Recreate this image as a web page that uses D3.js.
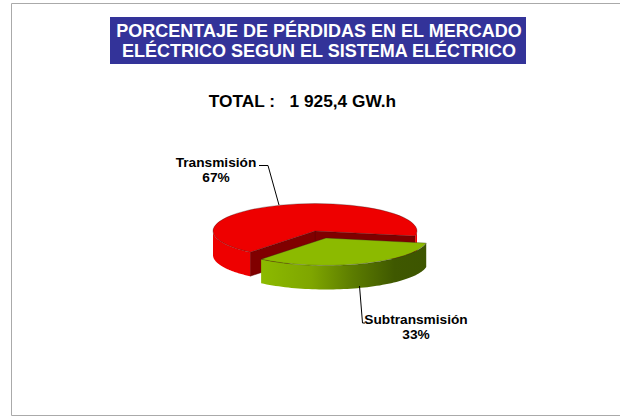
<!DOCTYPE html>
<html><head><meta charset="utf-8">
<script src="https://cdn.jsdelivr.net/npm/d3@7"></script>
<style>html,body{margin:0;padding:0;background:#fff}svg{display:block}text{font-family:"Liberation Sans",Arial,sans-serif;font-weight:bold}</style>
</head><body><script>
const categories = ["Transmisión", "Subtransmisión"];
const percentages = [67, 33];
const titleLines = ["PORCENTAJE DE PÉRDIDAS EN EL MERCADO", "ELÉCTRICO SEGUN EL SISTEMA ELÉCTRICO"];
const totalLabel = "TOTAL :   1 925,4 GW.h";

const W = 620, H = 417, rx = 102, ry = 27.5, depth = 24;
const centers = [{x:315,y:231},{x:326,y:238}];
const wallTop = ["#ee0000","#8cba00"];
const deg = Math.PI/180;
const svg = d3.select("body").append("svg").attr("width",W).attr("height",H);

const defs = svg.append("defs");
const gr = defs.append("linearGradient").attr("id","gw").attr("gradientUnits","userSpaceOnUse")
  .attr("x1",261).attr("x2",428).attr("y1",0).attr("y2",0);
[[0,"#8cba00"],[0.3,"#7fa600"],[0.55,"#5c7c00"],[0.8,"#3f5800"],[1,"#3d5500"]].forEach(d=>
  gr.append("stop").attr("offset",d[0]).attr("stop-color",d[1]));

// frame
svg.append("path").attr("d",`M${W},3.5H11.5V415.5H${W}`).attr("fill","none").attr("stroke","#aaaaaa").attr("stroke-width",1);

// title
svg.append("rect").attr("x",110).attr("y",17).attr("width",416).attr("height",47).attr("fill","#333399");
svg.append("g").selectAll("text").data(titleLines).join("text")
  .attr("x",319).attr("y",(d,i)=>37+i*20).attr("text-anchor","middle").attr("fill","#fff")
  .attr("font-size",18).text(d=>d);
svg.append("text").attr("x",302.5).attr("y",106.5).attr("text-anchor","middle").attr("xml:space","preserve")
  .attr("font-size",17.3).attr("fill","#000").style("white-space","pre").text(totalLabel);

// pie
const pie = d3.pie().sort(null).startAngle(219.5*deg).endAngle(219.5*deg+2*Math.PI);
const arcs = pie(percentages);
const arc = d3.arc().innerRadius(0).outerRadius(rx);
const pt = (c,a,dz=0)=>[c.x+rx*Math.sin(a), c.y-ry*Math.cos(a)+dz];
const line = d3.line();
function wall(c,a0,a1){
  const n = 60, top = d3.range(n+1).map(i=>pt(c,a0+(a1-a0)*i/n));
  return line(top.concat(top.slice().reverse().map(p=>[p[0],p[1]+depth])))+"Z";
}
function face(c,a){
  const e = pt(c,a);
  return line([[c.x,c.y],e,[e[0],e[1]+depth],[c.x,c.y+depth]])+"Z";
}
function visible(a0,a1,fill,g,c){
  [[Math.PI/2,1.5*Math.PI],[2.5*Math.PI,3.5*Math.PI]].forEach(r=>{
    const s=Math.max(a0,r[0]), e=Math.min(a1,r[1]);
    if(e>s) g.append("path").attr("d",wall(c,s,e)).attr("fill",fill);
  });
}
arcs.forEach((d,i)=>{
  const c = centers[i], g = svg.append("g").attr("class","slice");
  if(i===0){
    g.append("path").attr("d",face(c,d.endAngle)).attr("fill","#800000").attr("stroke","#5a0000").attr("stroke-width",.4);
    g.append("path").attr("d",face(c,d.startAngle)).attr("fill","#800000").attr("stroke","#5a0000").attr("stroke-width",.4);
    visible(d.startAngle,d.endAngle,"#ee0000",g,c);
  } else {
    visible(d.startAngle,d.endAngle,"url(#gw)",g,c);
  }
  g.append("path").attr("d",arc(d)).attr("transform",`translate(${c.x},${c.y}) scale(1,${ry/rx})`)
    .attr("fill",wallTop[i]).attr("stroke","#222").attr("stroke-width",.5).attr("stroke-opacity",.6)
    .attr("vector-effect","non-scaling-stroke");
});

// leaders + labels
const labelPos = [{x:216,y:167},{x:416,y:324}];
const leaders = [[[259,165.5],[268,165.5],[279,205]],[[359.5,286],[362.5,323],[365,323]]];
leaders.forEach(l=>svg.append("path").attr("d",line(l)).attr("fill","none").attr("stroke","#000").attr("stroke-width",1));
categories.forEach((c,i)=>{
  const t = svg.append("text").attr("text-anchor","middle").attr("font-size",13.7).attr("fill","#000");
  t.append("tspan").attr("x",labelPos[i].x).attr("y",labelPos[i].y).text(c);
  t.append("tspan").attr("x",labelPos[i].x).attr("y",labelPos[i].y+15).text(percentages[i]+"%");
});
</script></body></html>
